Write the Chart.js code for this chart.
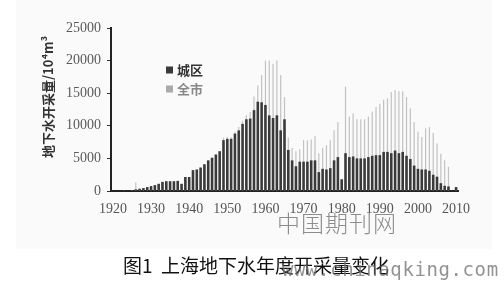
<!DOCTYPE html>
<html>
<head>
<meta charset="utf-8">
<script src="https://cdn.jsdelivr.net/npm/chart.js@4"></script>
<style>
  body { margin: 0; background: #fff; }
  #wrap { position: relative; width: 504px; height: 282px; overflow: hidden; }
  #panel { position: absolute; left: 16px; top: 0; width: 476px; height: 249px; background: #fafafa; }
  #myChart { position: absolute; left: 0; top: 0; }
  #mark1 { position: absolute; left: 277px; top: 205px; font: 300 23px "Noto Sans CJK SC"; color: #8c8c8c; letter-spacing: 1px; }
  #caption { position: absolute; left: 123px; top: 251px; font: 19px "Noto Sans CJK SC"; color: #111; white-space: pre; }
  #mark2 { position: absolute; left: 282px; top: 258px; font: 19px "DejaVu Sans Mono"; color: rgba(110,110,110,0.75); white-space: pre; letter-spacing: 0.6px; }
</style>
</head>
<body>
<div id="wrap">
  <div id="panel"></div>
  <canvas id="myChart" width="504" height="282"></canvas>
  <div id="mark1">中国期刊网</div>
  <div id="caption">图1  上海地下水年度开采量变化</div>
  <div id="mark2">www.chinaqking.com</div>
</div>
<script>
// years on the x axis
const years = [1920,1921,1922,1923,1924,1925,1926,1927,1928,1929,
  1930,1931,1932,1933,1934,1935,1936,1937,1938,1939,
  1940,1941,1942,1943,1944,1945,1946,1947,1948,1949,
  1950,1951,1952,1953,1954,1955,1956,1957,1958,1959,
  1960,1961,1962,1963,1964,1965,1966,1967,1968,1969,
  1970,1971,1972,1973,1974,1975,1976,1977,1978,1979,
  1980,1981,1982,1983,1984,1985,1986,1987,1988,1989,
  1990,1991,1992,1993,1994,1995,1996,1997,1998,1999,
  2000,2001,2002,2003,2004,2005,2006,2007,2008,2009,2010];

// 城区 (10^4 m3)
const cityVals = [0,0,0,50,80,150,250,350,450,600,
  750,900,1100,1400,1500,1500,1500,1550,1100,2150,
  2150,3200,3300,3600,4100,4700,5100,5600,6100,7800,
  8000,8000,8800,9300,10300,11000,11100,12400,13700,13600,
  13200,11600,11200,11600,9300,11000,6300,4700,3800,4500,
  4500,4500,4700,4700,2900,3400,3300,3500,4700,5200,
  1800,5800,5200,5300,5000,5000,5000,5200,5400,5500,
  5500,6000,6000,5800,6200,5800,6000,5400,4900,3900,
  3400,3300,3300,3100,2500,2200,1200,800,700,0,600];

// 全市 (10^4 m3)
const totalVals = [0,0,0,50,80,150,1300,350,450,600,
  750,900,1100,1400,1500,1500,1500,1550,1100,2150,
  2150,3200,3300,3600,4100,4700,5100,5600,6100,8200,
  8300,8300,9100,9800,10800,11600,12100,14500,16200,17800,
  20000,20000,19500,20000,17800,14400,8200,6600,6100,6400,
  7800,7800,7900,8400,5800,6600,7000,7800,9300,10600,
  1800,16000,11400,11900,11000,11000,11000,11400,12200,12900,
  13400,14000,14200,15200,15500,15300,15300,14400,12700,10600,
  9100,8300,9600,9800,8900,7300,5700,4700,3700,0,600];

const yTicks = [0, 5000, 10000, 15000, 20000, 25000];
const seriesNames = ['城区', '全市'];
const seriesColors = ['#3a3a3a', '#c2c2c2'];

const tickFont = { family: '"Liberation Serif", serif', size: 14 };

const ctx = document.getElementById('myChart').getContext('2d');
const myChart = new Chart(ctx, {
  type: 'bar',
  data: {
    labels: years,
    datasets: [{
      label: seriesNames[0],
      data: cityVals,
      backgroundColor: seriesColors[0],
      barPercentage: 0.68,
      categoryPercentage: 1
    }, {
      label: seriesNames[1],
      data: totalVals,
      backgroundColor: seriesColors[1],
      barPercentage: 0.32,
      categoryPercentage: 1
    }]
  },
  options: {
    responsive: false,
    animation: false,
    layout: { padding: { top: 28, right: 46, left: 0, bottom: 0 } },
    plugins: {
      legend: { display: false },
      tooltip: { enabled: false }
    },
    scales: {
      x: {
        type: 'category',
        stacked: true,
        offset: true,
        grid: { display: false, drawTicks: false },
        border: { color: '#222', width: 2 },
        ticks: {
          autoSkip: false,
          maxRotation: 0,
          padding: 10,
          color: '#555',
          font: tickFont,
          callback: function(v, i) {
            return years[i] % 10 === 0 ? String(years[i]) : '';
          }
        },
        afterFit: function(scale) { scale.height = 91; }
      },
      y: {
        stacked: false,
        min: 0,
        max: 25000,
        afterBuildTicks: function(scale) {
          scale.ticks = yTicks.map(v => ({ value: v }));
        },
        grid: { drawOnChartArea: false, drawTicks: true, tickLength: 4, color: '#333' },
        border: { color: '#222', width: 2 },
        ticks: {
          color: '#5a5a5a',
          font: tickFont,
          padding: 6,
          callback: function(v) { return String(v); }
        },
        afterFit: function(scale) { scale.width = 111; }
      }
    }
  },
  plugins: [{
    id: 'extras',
    afterDraw: function(chart) {
      var c = chart.ctx, area = chart.chartArea;
      c.save();
      // legend
      var lx = area.left + 55, ly = area.top + 42;
      c.font = 'bold 13px "Noto Sans CJK SC"';
      c.textBaseline = 'middle';
      for (var i = 0; i < seriesNames.length; i++) {
        var yy = ly + i * 19;
        c.fillStyle = i === 0 ? seriesColors[0] : '#aaa';
        c.fillRect(lx, yy - 3.5, 7, 7);
        c.fillStyle = i === 0 ? '#333' : '#888';
        c.fillText(seriesNames[i], lx + 11, yy);
      }
      // y axis title
      c.translate(48, 97);
      c.rotate(-Math.PI / 2);
      c.textAlign = 'center';
      c.fillStyle = '#333';
      c.font = 'bold 13px "Noto Sans CJK SC"';
      c.fillText('地下水开采量/10⁴m³', 0, 0);
      c.restore();
    }
  }]
});
</script>
</body>
</html>
